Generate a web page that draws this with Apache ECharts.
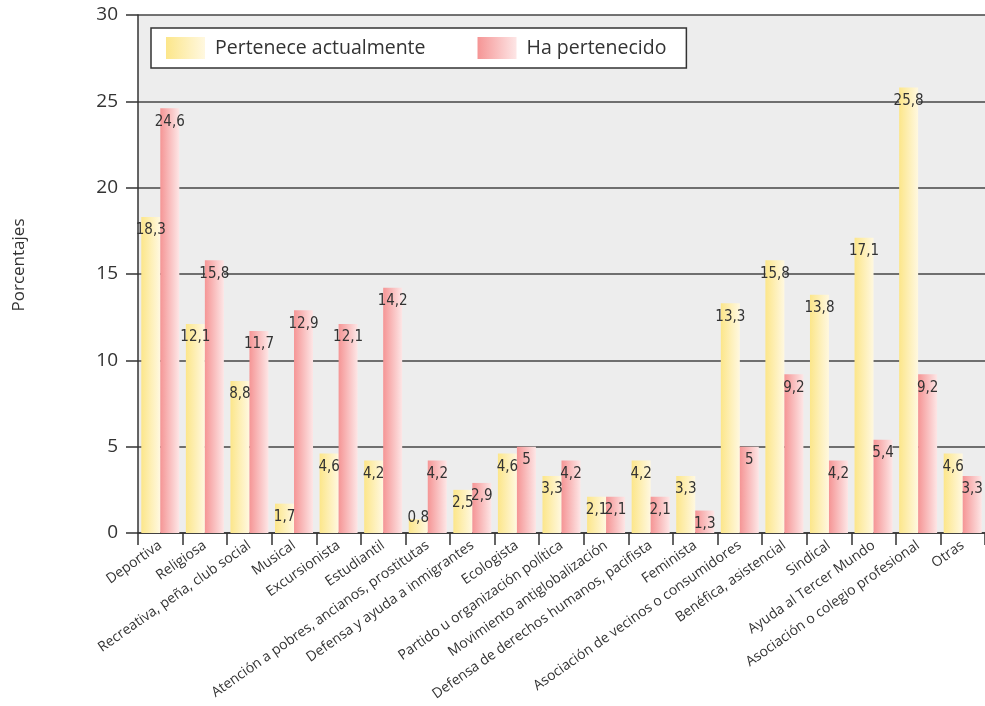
<!DOCTYPE html>
<html>
<head>
<meta charset="utf-8">
<script src="https://cdn.jsdelivr.net/npm/echarts@6/dist/echarts.min.js"></script>
<style>html,body{margin:0;padding:0;background:#fff}#c{width:985px;height:706px}</style>
</head>
<body>
<div id="c"></div>
<script>
const categories = ["Deportiva","Religiosa","Recreativa, peña, club social","Musical","Excursionista","Estudiantil","Atención a pobres, ancianos, prostitutas","Defensa y ayuda a inmigrantes","Ecologista","Partido u organización política","Movimiento antiglobalización","Defensa de derechos humanos, pacifista","Feminista","Asociación de vecinos o consumidores","Benéfica, asistencial","Sindical","Ayuda al Tercer Mundo","Asociación o colegio profesional","Otras"];
const perteneceActualmente = [18.3,12.1,8.8,1.7,4.6,4.2,0.8,2.5,4.6,3.3,2.1,4.2,3.3,13.3,15.8,13.8,17.1,25.8,4.6];
const haPertenecido = [24.6,15.8,11.7,12.9,12.1,14.2,4.2,2.9,5,4.2,2.1,2.1,1.3,5,9.2,4.2,5.4,9.2,3.3];
const seriesNames = ["Pertenece actualmente","Ha pertenecido"];
const yTicks = [0,5,10,15,20,25,30];

const chart = echarts.init(document.getElementById('c'), null, {renderer:'canvas'});
const grad = (a,b)=>new echarts.graphic.LinearGradient(0,0,1,0,[{offset:0,color:a},{offset:1,color:b}]);
const labelFmt = p => String(p.value).replace('.', ',');
function mk(vals){
  return vals.map(v => v < 1 ? {value:v, label:{offset:[0,-15]}} : v);
}
const labelStyle = {show:true, position:'insideTop', distance:6, formatter:labelFmt,
  fontFamily:'"Liberation Sans Narrow","DejaVu Sans Condensed",sans-serif', fontSize:15, color:'#333'};
chart.setOption({
  animation:false,
  backgroundColor:'#fff',
  grid:{left:138, right:-6, top:15, bottom:173, show:true, backgroundColor:'#EDEDED', borderWidth:0},
  legend:{
    left:151, top:28, height:25, orient:'horizontal', icon:'rect',
    backgroundColor:'#fff', borderColor:'#333', borderWidth:1.5,
    padding:[9,20,9,15], itemWidth:39, itemHeight:22, itemGap:52,
    textStyle:{fontFamily:'"Open Sans",sans-serif', fontSize:19.5, color:'#333', padding:[0,0,0,5]},
    data:seriesNames
  },
  xAxis:{
    type:'category', data:categories,
    axisLine:{lineStyle:{color:'#333', width:1.5}},
    axisTick:{show:true, length:12, lineStyle:{color:'#333', width:1.5}},
    axisLabel:{rotate:35, interval:0, fontFamily:'"Open Sans",sans-serif', fontSize:14, color:'#333', margin:11}
  },
  yAxis:{
    type:'value', min:yTicks[0], max:yTicks[yTicks.length-1], interval:5,
    name:'Porcentajes', nameLocation:'middle', nameGap:110, nameRotate:90,
    nameTextStyle:{fontFamily:'"Open Sans",sans-serif', fontSize:17, color:'#333', padding:[0,0,0,18]},
    axisLine:{show:true, lineStyle:{color:'#333', width:1.5}},
    axisTick:{show:true, length:12, lineStyle:{color:'#333', width:1.5}},
    axisLabel:{fontFamily:'"Open Sans",sans-serif', fontSize:19, color:'#333', margin:20},
    splitLine:{show:true, lineStyle:{color:'#444', width:1.5}}
  },
  series:[
    {name:seriesNames[0], type:'bar', data:mk(perteneceActualmente), barWidth:19, barGap:'0%',
     itemStyle:{color:grad('#FCE68A','#FFF8E0')}, label:labelStyle},
    {name:seriesNames[1], type:'bar', data:mk(haPertenecido), barWidth:19, barGap:'0%',
     itemStyle:{color:grad('#F59595','#FDE6E6')}, label:labelStyle}
  ]
});
</script>
</body>
</html>
